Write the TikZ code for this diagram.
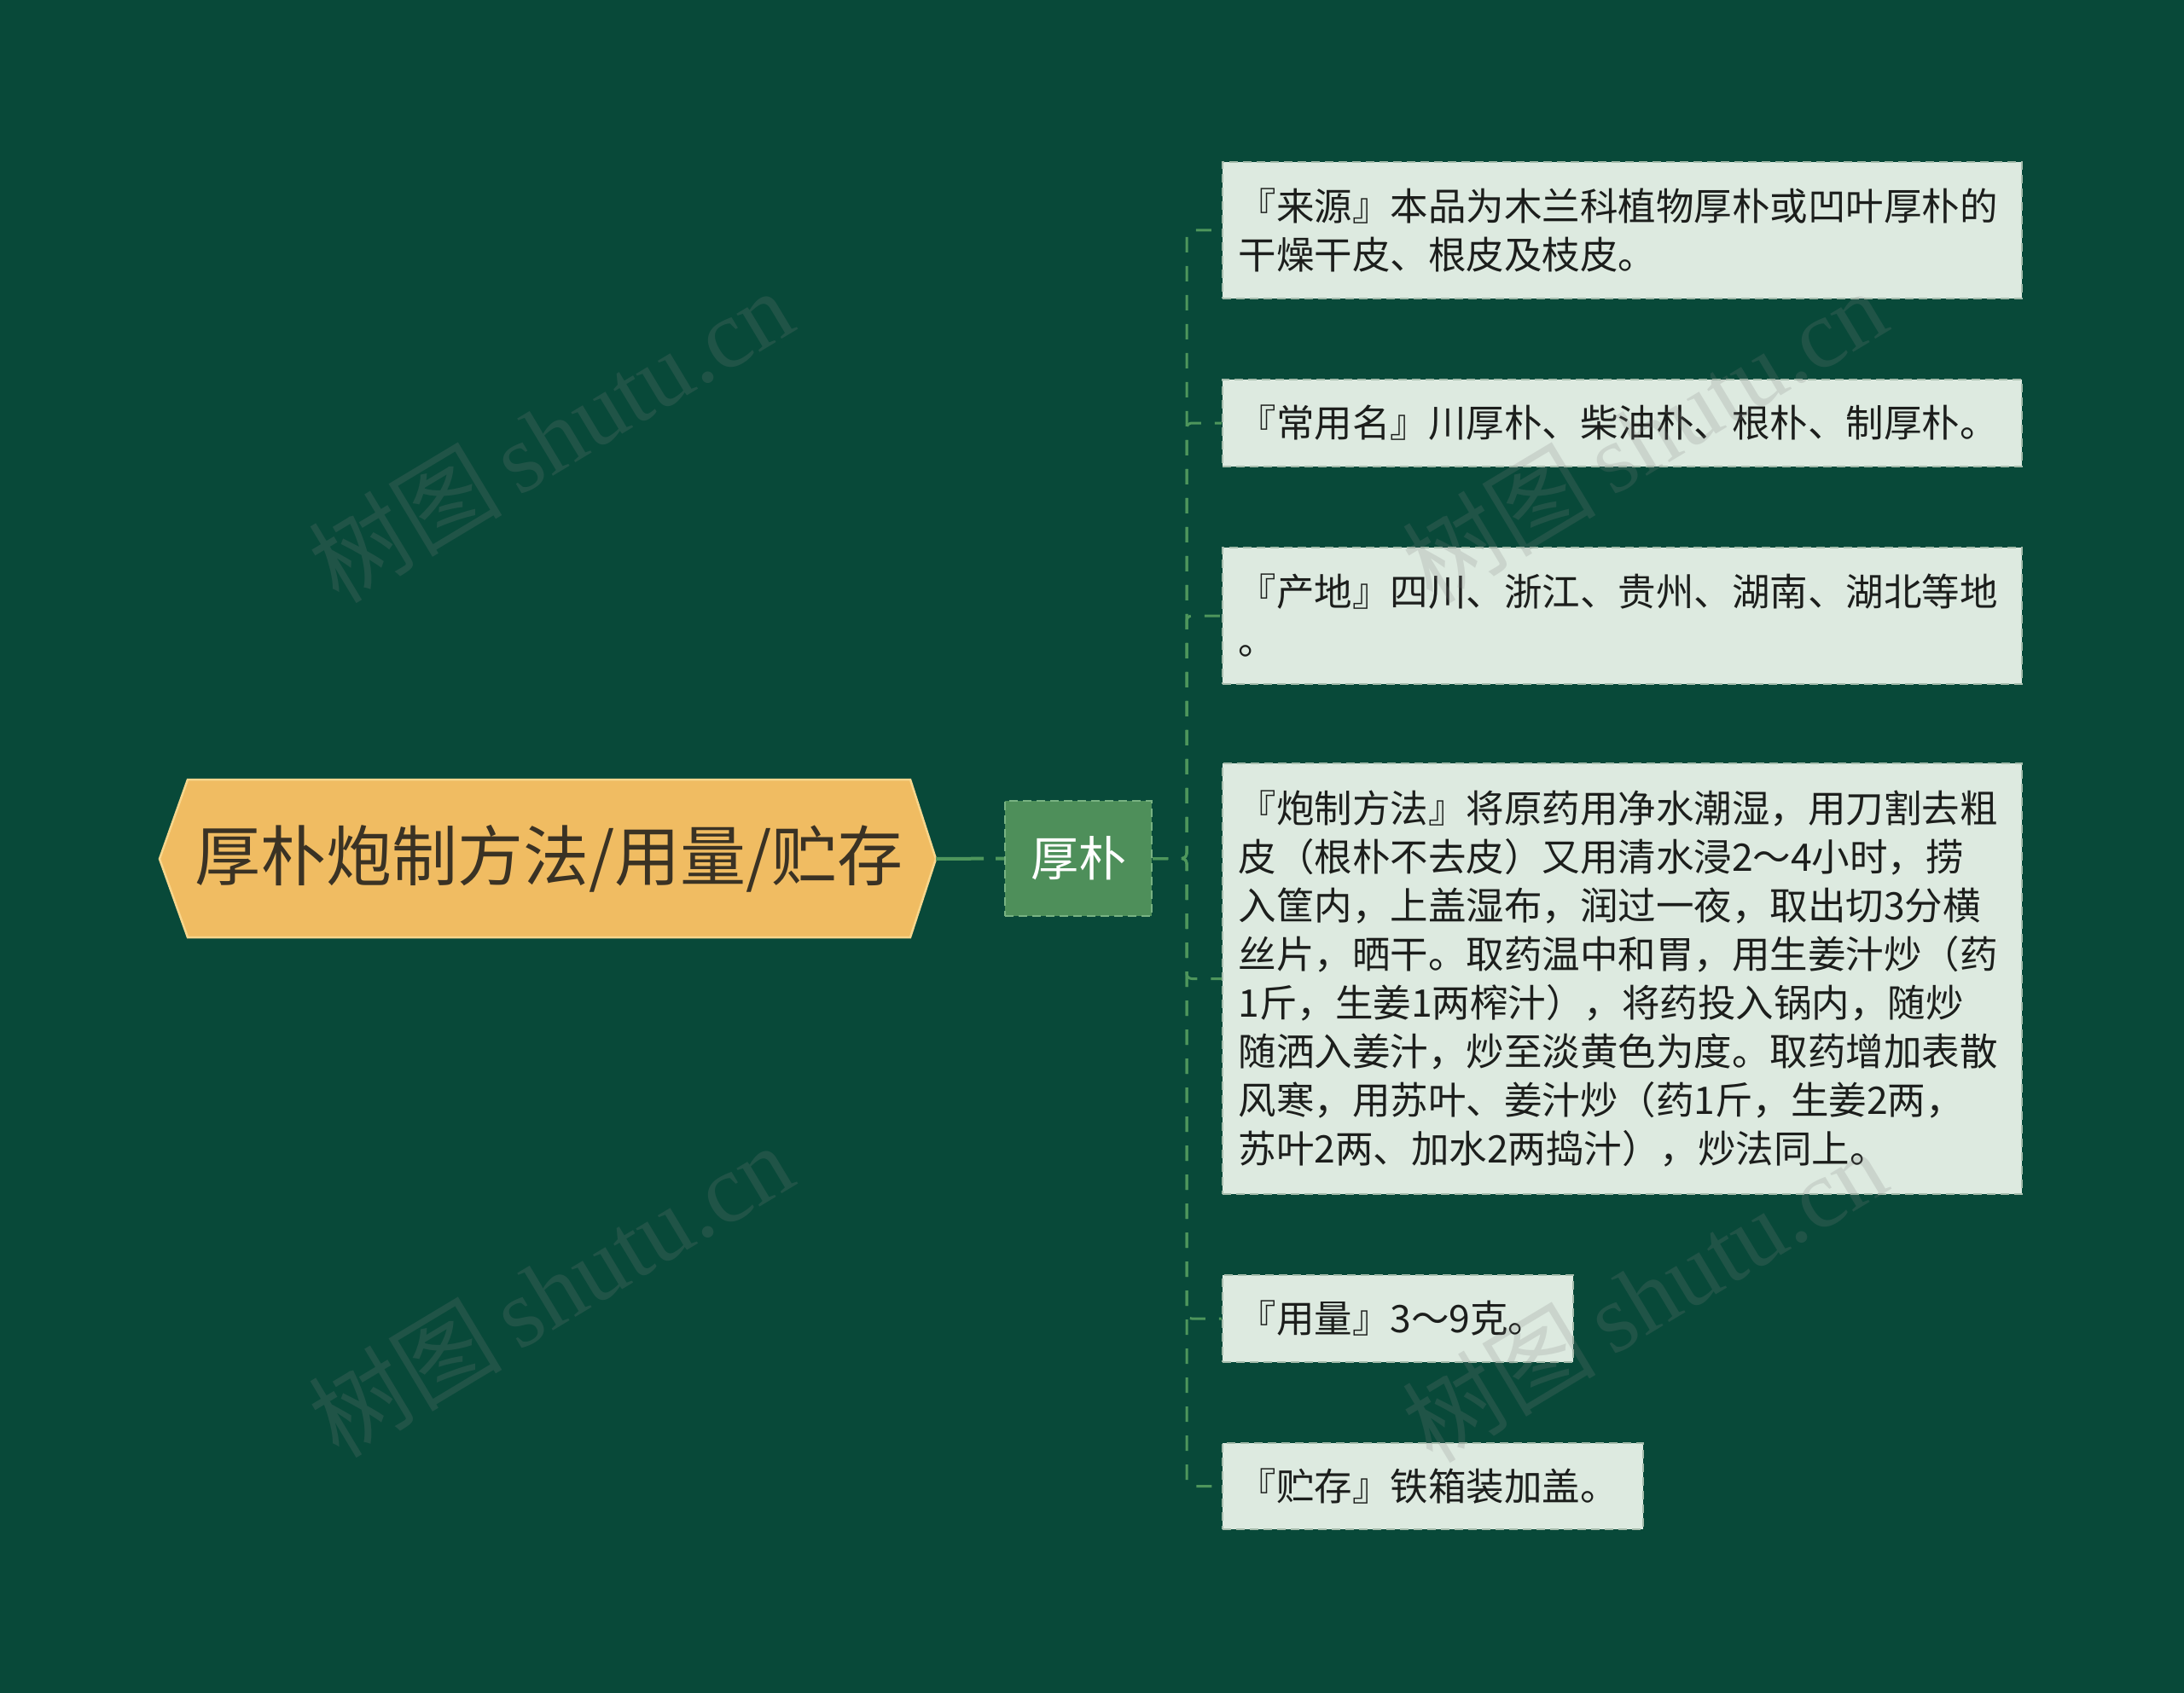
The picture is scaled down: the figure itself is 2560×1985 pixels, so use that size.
\documentclass[tikz,border=0pt]{standalone}
\usepackage{fontspec}
\setmainfont{Noto Sans CJK SC}
\newfontfamily\wmserif{Liberation Serif}
\usetikzlibrary{calc}
\definecolor{bg}{RGB}{8,73,57}
\definecolor{rootfill}{RGB}{240,188,98}
\definecolor{rootline}{RGB}{248,214,140}
\definecolor{roottext}{RGB}{58,50,36}
\definecolor{hubfill}{RGB}{78,143,90}
\definecolor{hubline}{RGB}{120,178,130}
\definecolor{leaffill}{RGB}{221,234,224}
\definecolor{leafline}{RGB}{165,188,172}
\definecolor{leaftext}{RGB}{28,30,28}
\definecolor{conncol}{RGB}{78,150,92}
\begin{document}
\begin{tikzpicture}[x=1pt,y=-1pt,
  leaf/.style={anchor=west, fill=leaffill, draw=leafline, dash pattern=on 10pt off 6pt,
    line width=2pt, text width=900pt, inner xsep=18.5pt, inner ysep=0pt, align=left,
    text=leaftext, font=\fontsize{44.5}{57}\selectfont},
  hubnode/.style={fill=hubfill, draw=hubline, dash pattern=on 10pt off 6pt, line width=2pt,
    minimum width=172pt, minimum height=135pt, inner sep=0pt, text=white,
    font=\fontsize{56}{60}\selectfont},
  rootshape/.style={fill=rootfill, draw=rootline, line width=2.5pt, line join=miter},
  roottxt/.style={inner sep=0pt, text=roottext, font=\fontsize{77}{80}\selectfont},
  rootconn/.style={draw=conncol, line width=4pt, dash pattern=on 56pt off 14pt},
  conn/.style={draw=conncol, line width=3pt, dash pattern=on 18pt off 16pt, rounded corners=6pt},
  wm/.style={text=gray, opacity=0.2, font=\fontsize{114}{114}\selectfont}
]
\useasboundingbox[fill=bg] (0,0) rectangle (2560,1985);

% root hexagon
\coordinate (rootL) at (187,1007);
\coordinate (rootR) at (1097,1007);
\path[rootshape] (220,914) -- (1067,914) -- (rootR) -- (1067,1099) -- (220,1099) -- (rootL) -- cycle;
\node[roottxt] (root) at (643.5,1006.5) {厚朴炮制方法/用量/贮存};

% hub
\node[hubnode] (hub) at (1264,1006.5) {厚朴};

% leaves
\node[leaf, minimum height=160pt] (c1) at (1432,270)
  {『来源』本品为木兰科植物厚朴或凹叶厚朴的\\干燥干皮、根皮及枝皮。};
\node[leaf, minimum height=102pt] (c2) at (1432,496)
  {『常用名』川厚朴、柴油朴、根朴、制厚朴。};
\node[leaf, minimum height=160pt] (c3) at (1432,722)
  {『产地』四川、浙江、贵州、湖南、湖北等地\\。};
\node[leaf, minimum height=505pt] (c4) at (1432,1147.5)
  {『炮制方法』将原药用净水潮湿，用刀割去粗\\
   皮（根朴不去皮）又用清水浸2～4小时，捞\\
   入筐内，上盖湿布，润过一夜，取出切3分横\\
   丝片，晒干。取药温中和胃，用生姜汁炒（药\\
   1斤，生姜1两榨汁），将药投入锅内，随炒\\
   随洒入姜汁，炒至淡黄色为度。取药增加表散\\
   风寒，用苏叶、姜汁炒（药1斤，生姜2两，\\
   苏叶2两、加水2两捣汁），炒法同上。};
\node[leaf, minimum height=102pt, text width=374pt] (c5) at (1432,1546)
  {『用量』3～9克。};
\node[leaf, minimum height=101pt, text width=456pt] (c6) at (1432,1742.5)
  {『贮存』铁箱装加盖。};

% connectors
\coordinate (spine) at (1391,1006.5);
\draw[rootconn] (rootR) -- (hub.west);
\foreach \c in {c1,c2,c3,c4,c5,c6}
  \draw[conn] (hub.east) -- (spine) |- (\c.west);

% watermarks
\node[wm, rotate=31] (wm1) at (645,510) {树图\,{\wmserif shutu.cn}};
\node[wm, rotate=31] (wm2) at (1927,510) {树图\,{\wmserif shutu.cn}};
\node[wm, rotate=31] (wm3) at (645,1512) {树图\,{\wmserif shutu.cn}};
\node[wm, rotate=31] (wm4) at (1927,1518) {树图\,{\wmserif shutu.cn}};
\end{tikzpicture}
\end{document}
